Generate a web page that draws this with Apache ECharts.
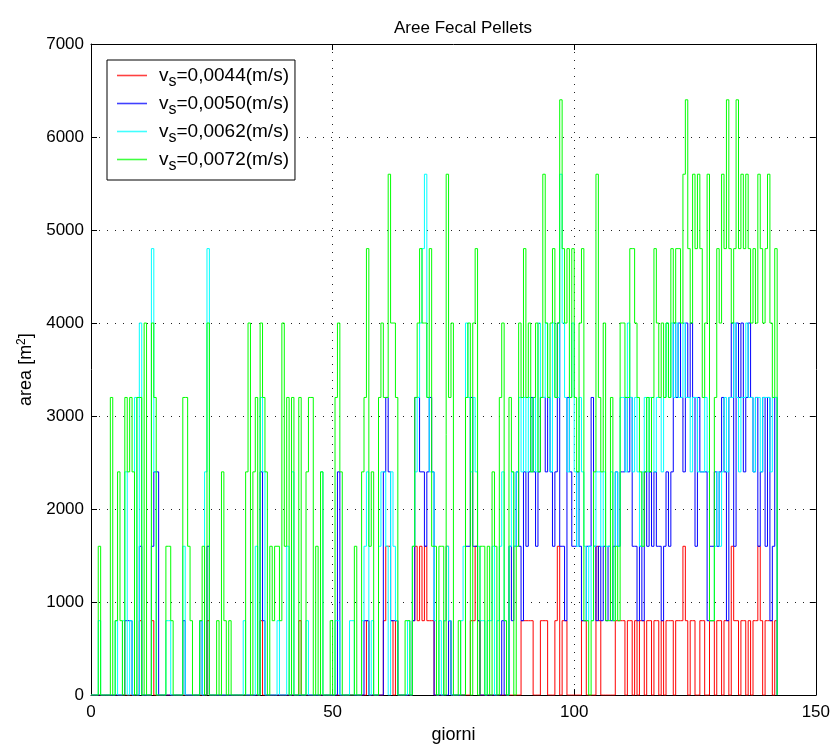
<!DOCTYPE html>
<html>
<head>
<meta charset="utf-8">
<script src="https://cdn.jsdelivr.net/npm/echarts@6/dist/echarts.min.js"></script>
<style>
html,body{margin:0;padding:0;background:#fff;}
#chart{width:833px;height:749px;}
</style>
</head>
<body>
<div id="chart"></div>
<script>
// Sampling step of the recorded series (days)
const dayStep = 0.5;

const seriesNames = ['vs=0,0044(m/s)', 'vs=0,0050(m/s)', 'vs=0,0062(m/s)', 'vs=0,0072(m/s)'];
const seriesColors = ['#ff0000', '#0000ff', '#00ffff', '#00ff00'];

const xTicks = [0, 50, 100, 150];
const yTicks = [0, 1000, 2000, 3000, 4000, 5000, 6000, 7000];

// area values [m^2], one every 0.5 day starting at day 0
const areaVs0044 = [
  0,0,0,0,0,0,0,0,0,0,0,0,0,0,0,0,0,0,0,0,
  800,0,0,0,0,800,0,0,0,0,0,0,0,0,0,0,0,0,0,0,
  0,0,0,0,0,0,0,0,800,0,0,0,0,0,0,0,0,0,0,0,
  0,0,0,0,0,0,0,0,0,0,800,0,0,0,0,0,0,0,0,0,
  0,0,0,0,0,0,800,0,0,0,0,0,0,0,0,0,0,0,0,0,
  0,0,0,0,0,0,0,0,0,0,0,0,0,0,800,0,0,0,0,0,
  0,800,1600,1600,800,0,800,0,0,0,0,0,0,800,1600,800,1600,800,1600,800,
  800,800,0,0,0,0,800,1600,800,0,0,0,0,0,0,0,0,800,800,1600,
  800,0,0,0,0,0,0,0,0,0,0,0,0,0,0,0,0,0,800,800,
  800,800,800,0,0,0,800,800,800,0,0,0,800,1600,0,800,800,0,0,0,
  0,0,0,800,800,0,0,0,0,1600,800,0,0,0,0,0,0,800,800,800,
  800,0,800,800,0,800,0,800,800,0,800,800,0,800,800,0,800,0,800,800,
  800,0,800,800,800,1600,800,0,800,800,0,0,800,800,0,0,800,800,0,800,
  800,0,800,800,0,1600,800,800,0,800,800,0,800,0,800,800,1600,800,0,800,
  800,800,0,800,0
];

const areaVs0050 = [
  0,0,0,0,0,0,0,0,0,0,0,0,0,0,800,800,800,0,0,0,
  1600,0,0,0,0,1600,2400,2400,0,0,0,0,0,0,0,0,0,0,800,0,
  0,0,0,0,0,800,0,0,1600,0,0,0,0,0,0,0,0,0,0,0,
  0,0,0,0,0,0,0,0,0,0,2400,800,0,0,0,0,0,0,0,0,
  0,0,0,0,0,0,0,0,0,0,0,0,0,0,0,0,0,0,0,0,
  0,0,2400,0,0,0,0,0,0,0,0,0,0,800,800,0,0,0,0,0,
  0,2400,3200,2400,800,800,800,0,0,0,0,0,0,800,3200,3200,2400,2400,1600,2400,
  3200,2400,0,0,0,0,0,0,800,0,0,0,0,0,0,1600,1600,3200,1600,1600,
  800,0,0,0,0,0,0,0,0,0,800,0,0,1600,800,1600,2400,1600,800,2400,
  1600,2400,3200,2400,1600,2400,3200,3200,2400,3200,2400,1600,2400,4000,1600,1600,800,3200,2400,1600,
  1600,2400,1600,800,800,1600,1600,3200,1600,800,1600,800,1600,800,1600,800,1600,2400,1600,2400,
  2400,3200,2400,3200,1600,1600,800,1600,800,2400,1600,2400,1600,2400,1600,1600,800,1600,2400,1600,
  2400,4000,3200,4000,3200,2400,4000,3200,4000,3200,1600,3200,2400,2400,2400,800,1600,1600,2400,1600,
  2400,3200,2400,800,3200,4000,1600,4000,3200,4000,2400,3200,4000,3200,2400,3200,1600,2400,3200,1600,
  3200,800,1600,3200,0
];

const areaVs0062 = [
  0,0,0,800,0,0,0,0,0,0,800,0,0,800,2400,0,800,0,3200,0,
  4000,0,0,0,0,4800,2400,0,0,0,0,800,800,0,0,0,0,0,1600,0,
  0,0,0,0,0,800,0,2400,4800,0,0,0,0,0,0,0,0,0,0,0,
  0,0,0,800,0,0,0,0,1600,0,3200,2400,0,0,0,0,0,800,0,0,
  0,1600,0,2400,0,0,0,0,0,800,0,0,0,0,0,2400,0,0,0,0,
  0,800,800,0,0,0,0,800,800,0,0,0,800,1600,2400,0,800,0,0,1600,
  2400,2400,1600,0,2400,1600,800,0,0,0,0,800,0,1600,2400,3200,4000,4800,5600,3200,
  2400,2400,800,0,800,0,800,1600,800,0,0,0,0,800,1600,4000,3200,2400,3200,2400,
  1600,800,800,0,800,800,1600,0,800,1600,2400,800,0,1600,2400,1600,2400,3200,2400,3200,
  2400,3200,2400,3200,2400,4000,3200,3200,4000,3200,2400,4000,3200,3200,5600,4000,3200,2400,3200,4000,
  2400,1600,3200,2400,1600,800,1600,800,1600,2400,2400,1600,2400,1600,1600,2400,800,2400,1600,3200,
  3200,2400,4000,3200,2400,3200,2400,1600,2400,3200,2400,3200,3200,2400,3200,3200,2400,3200,4000,3200,
  4000,3200,4000,3200,3200,4000,3200,3200,2400,3200,3200,2400,2400,2400,3200,2400,800,800,1600,2400,
  1600,2400,3200,2400,3200,3200,4000,3200,2400,3200,3200,4000,3200,3200,2400,3200,3200,2400,3200,3200,
  3200,2400,3200,3200,0
];

const areaVs0072 = [
  0,0,0,1600,0,0,0,0,3200,0,800,2400,800,0,3200,2400,3200,2400,0,3200,
  3200,0,4000,0,0,4000,3200,0,0,0,0,1600,1600,800,0,0,0,0,3200,3200,
  1600,800,0,0,0,800,1600,0,4000,0,0,0,800,0,2400,800,0,800,0,0,
  0,0,0,0,2400,4000,0,2400,3200,0,4000,3200,2400,0,1600,800,1600,1600,800,4000,
  1600,3200,0,3200,0,0,3200,0,0,2400,3200,3200,0,1600,0,2400,0,0,0,800,
  0,3200,4000,2400,0,0,0,0,0,1600,0,0,2400,3200,4800,1600,2400,0,0,3200,
  4000,3200,3200,5600,4000,4000,3200,0,0,0,800,800,0,1600,3200,4000,4800,4000,4000,3200,
  4800,1600,1600,0,1600,1600,0,5600,3200,4000,0,0,800,0,0,3200,4000,0,4000,4800,
  0,1600,1600,0,1600,0,2400,1600,0,3200,4000,800,0,3200,2400,0,1600,4000,3200,4800,
  3200,4000,2400,3200,4000,2400,3200,5600,4000,3200,4000,4800,3200,4000,6400,4800,4000,4800,3200,4800,
  3200,2400,4000,4800,800,800,0,800,2400,5600,3200,2400,4000,800,800,3200,800,1600,800,4000,
  4000,3200,3200,4800,4800,4000,3200,2400,1600,2400,3200,2400,3200,4800,4000,3200,4000,3200,4000,3200,
  4800,4000,4800,4800,4000,5600,6400,4800,4000,5600,4800,5600,4800,3200,4000,5600,800,800,3200,4800,
  4000,5600,4800,6400,4800,4000,4800,6400,4800,5600,4800,5600,4800,4000,4800,4000,5600,4800,4000,4800,
  5600,4000,3200,4800,0
];

const allAreas = [areaVs0044, areaVs0050, areaVs0062, areaVs0072];

const font = '"Liberation Sans", Arial, Helvetica, sans-serif';

function toPairs(vals) {
  return vals.map((v, i) => [i * dayStep, v]);
}

const series = allAreas.map((vals, k) => ({
  name: seriesNames[k],
  type: 'line',
  step: 'end',
  showSymbol: false,
  symbol: 'none',
  color: seriesColors[k],
  data: toPairs(vals),
  lineStyle: { color: seriesColors[k], width: 1 },
  itemStyle: { color: seriesColors[k] },
  animation: false,
  z: 2 + k
}));

const chart = echarts.init(document.getElementById('chart'), null, { renderer: 'canvas' });

const gridLine = { show: true, lineStyle: { color: '#222', type: [1, 7], width: 1 } };

chart.setOption({
  animation: false,
  backgroundColor: '#ffffff',
  color: seriesColors,
  textStyle: { fontFamily: font },
  title: {
    text: 'Aree Fecal Pellets',
    left: 458,
    top: 15,
    textAlign: 'center',
    textStyle: { fontFamily: font, fontSize: 17, fontWeight: 'normal', color: '#000' }
  },
  legend: {
    orient: 'vertical',
    left: 107,
    top: 60,
    padding: [6, 6, 6, 10],
    itemGap: 4,
    itemWidth: 30,
    itemHeight: 14,
    borderColor: '#000',
    borderWidth: 1,
    backgroundColor: '#fff',
    data: seriesNames.map((n, k) => ({
      name: n,
      icon: 'path://M0,6.2H30V7.8H0Z',
      itemStyle: { color: seriesColors[k], opacity: 0.75, borderWidth: 0 }
    })),
    formatter: (name) => '{g|}v{sub|s}' + name.slice(2),
    textStyle: {
      fontFamily: font, fontSize: 19, color: '#000',
      rich: {
        g: { width: 7 },
        sub: { fontFamily: font, fontSize: 16, padding: [13, 0, 0, 0], color: '#000' }
      }
    }
  },
  grid: { left: 91, right: 15, top: 44, bottom: 48, containLabel: false },
  xAxis: [
    {
      type: 'value', min: 0, max: 150, interval: 50, position: 'bottom',
      name: 'giorni', nameLocation: 'middle', nameGap: 30,
      nameTextStyle: { fontFamily: font, fontSize: 18, color: '#000' },
      axisLine: { show: true, onZero: false, lineStyle: { color: '#000', width: 1 } },
      axisTick: { show: true, inside: true, length: 6, lineStyle: { color: '#000' } },
      axisLabel: { fontFamily: font, fontSize: 17, color: '#000', margin: 9 },
      splitLine: gridLine
    },
    {
      type: 'value', min: 0, max: 150, interval: 50, position: 'top',
      axisLine: { show: true, onZero: false, lineStyle: { color: '#000', width: 1 } },
      axisTick: { show: true, inside: true, length: 6, lineStyle: { color: '#000' } },
      axisLabel: { show: false },
      splitLine: { show: false }
    }
  ],
  yAxis: [
    {
      type: 'value', min: 0, max: 7000, interval: 1000, position: 'left',
      name: 'area [m{sup|2}]', nameLocation: 'middle', nameGap: 40, nameRotate: 90,
      nameTextStyle: {
        fontFamily: font, fontSize: 18, color: '#000',
        rich: { sup: { fontFamily: font, fontSize: 12, padding: [0, 0, 10, 0], color: '#000' } }
      },
      axisLine: { show: true, onZero: false, lineStyle: { color: '#000', width: 1 } },
      axisTick: { show: true, inside: true, length: 6, lineStyle: { color: '#000' } },
      axisLabel: { fontFamily: font, fontSize: 17, color: '#000', margin: 7, formatter: (v) => String(v) },
      splitLine: gridLine
    },
    {
      type: 'value', min: 0, max: 7000, interval: 1000, position: 'right',
      axisLine: { show: true, onZero: false, lineStyle: { color: '#000', width: 1 } },
      axisTick: { show: true, inside: true, length: 6, lineStyle: { color: '#000' } },
      axisLabel: { show: false },
      splitLine: { show: false }
    }
  ],
  series: series
});
</script>
</body>
</html>
